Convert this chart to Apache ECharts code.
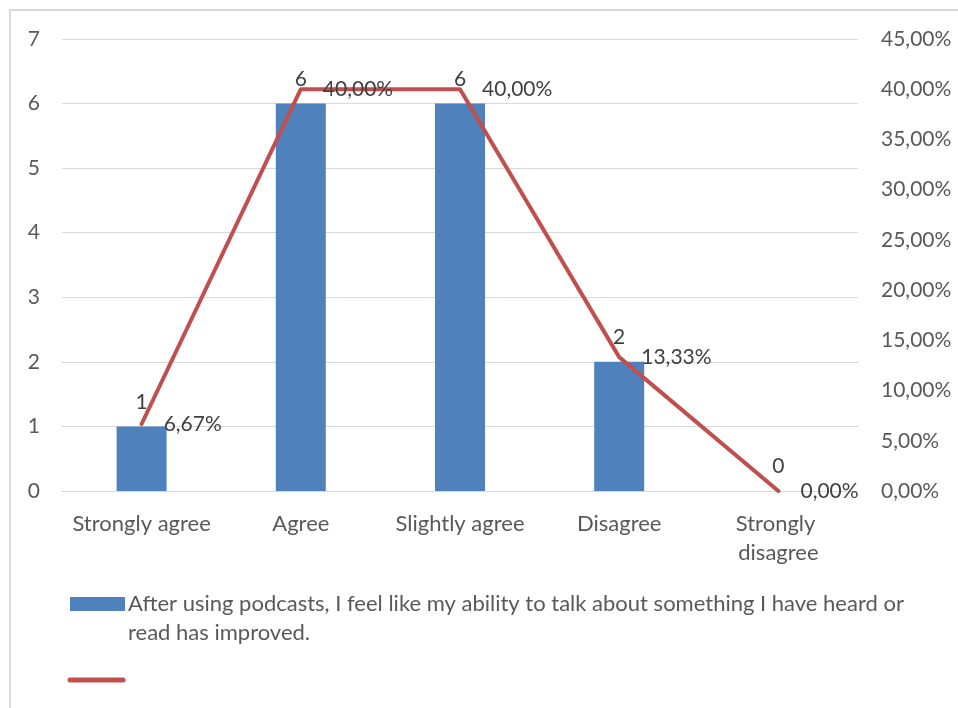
<!DOCTYPE html>
<html>
<head>
<meta charset="utf-8">
<style>
  html, body { margin: 0; padding: 0; background: #ffffff; }
  #chart { width: 958px; height: 708px; }
</style>
<script src="https://cdn.jsdelivr.net/npm/echarts@6/dist/echarts.min.js"></script>
</head>
<body>
<div id="chart"></div>
<script>
// Survey answers and their counts / shares
const categories = ['Strongly agree', 'Agree', 'Slightly agree', 'Disagree', 'Strongly disagree'];
const counts = [1, 6, 6, 2, 0];
const shares = [6.67, 40, 40, 13.33, 0];
const countTicks = [0, 1, 2, 3, 4, 5, 6, 7];
const shareTicks = [0, 5, 10, 15, 20, 25, 30, 35, 40, 45];
const barSeriesName = 'After using podcasts, I feel like my ability to talk about something I have heard or read has improved.';
const legendLines = ['After using podcasts, I feel like my ability to talk about something I have heard or', 'read has improved.'];

const FONT = 'Lato';
const NUM_SIZE = 21;
const TXT_SIZE = 22;
const fmtPct = v => Number(v).toFixed(2).replace('.', ',') + '%';

const chart = echarts.init(document.getElementById('chart'));
chart.setOption({
  animation: false,
  backgroundColor: '#ffffff',
  textStyle: { fontFamily: FONT },
  grid: { left: 62, right: 100, top: 39, bottom: 217, containLabel: false },
  xAxis: {
    type: 'category',
    data: categories,
    axisLine: { lineStyle: { color: '#d9d9d9', width: 1 } },
    axisTick: { show: false },
    axisLabel: {
      color: '#595959', fontSize: TXT_SIZE, fontFamily: FONT, margin: 18,
      interval: 0, width: 150, overflow: 'break', lineHeight: 29
    }
  },
  yAxis: [
    {
      type: 'value',
      min: countTicks[0], max: countTicks[countTicks.length - 1], interval: 1,
      axisLine: { show: false }, axisTick: { show: false },
      splitLine: { lineStyle: { color: '#d9d9d9', width: 1 } },
      axisLabel: { color: '#595959', fontSize: NUM_SIZE, fontFamily: FONT, margin: 22 }
    },
    {
      type: 'value',
      min: shareTicks[0], max: shareTicks[shareTicks.length - 1], interval: 5,
      axisLine: { show: false }, axisTick: { show: false },
      splitLine: { show: false },
      axisLabel: { color: '#595959', fontSize: NUM_SIZE, fontFamily: FONT, margin: 23, formatter: fmtPct }
    }
  ],
  series: [
    {
      name: barSeriesName,
      type: 'bar',
      data: counts,
      yAxisIndex: 0,
      barWidth: 50,
      itemStyle: { color: '#4f81bd' },
      label: { show: true, position: 'top', distance: 14, color: '#404040', fontSize: NUM_SIZE, fontFamily: FONT }
    },
    {
      name: 'share',
      type: 'line',
      data: shares,
      yAxisIndex: 1,
      symbol: 'circle',
      symbolSize: 0.1,
      showSymbol: true,
      lineStyle: { color: '#c0504d', width: 4, cap: 'round', join: 'round' },
      itemStyle: { color: '#c0504d' },
      label: {
        show: true, position: 'right', distance: 22, color: '#404040', fontSize: NUM_SIZE, fontFamily: FONT,
        formatter: p => fmtPct(p.value)
      },
      z: 3
    }
  ],
  graphic: [
    // outer chart frame
    { type: 'rect', shape: { x: 10, y: 10, width: 1000, height: 1000 }, style: { fill: 'none', stroke: '#d9d9d9', lineWidth: 2 }, silent: true },
    // legend
    { type: 'rect', shape: { x: 70, y: 597, width: 55, height: 14 }, style: { fill: '#4f81bd' } },
    { type: 'text', x: 128, y: 604, style: { text: legendLines[0], fill: '#595959', font: TXT_SIZE + 'px ' + FONT, verticalAlign: 'middle' } },
    { type: 'text', x: 128, y: 633, style: { text: legendLines[1], fill: '#595959', font: TXT_SIZE + 'px ' + FONT, verticalAlign: 'middle' } },
    { type: 'line', shape: { x1: 70, y1: 680, x2: 123, y2: 680 }, style: { stroke: '#c0504d', lineWidth: 5, lineCap: 'round' } }
  ]
});
</script>
</body>
</html>
